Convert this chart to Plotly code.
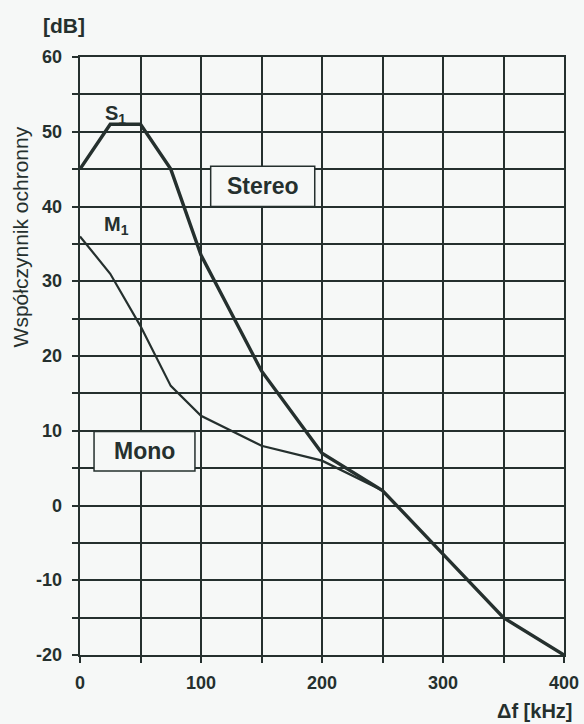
import plotly.graph_objects as go

# Frequency offset Δf [kHz] and protection ratio [dB]
stereo_df = [0, 25, 50, 75, 100, 150, 200, 250, 300, 350, 400]
stereo_db = [45, 51, 51, 45, 33.5, 18, 7, 2, -6.5, -15, -20]

mono_df = [0, 25, 50, 75, 100, 150, 200, 250]
mono_db = [36, 31, 24, 16, 12, 8, 6, 2]

# Grid every 50 kHz / 5 dB, labels every 100 kHz / 10 dB
x_grid = [0, 50, 100, 150, 200, 250, 300, 350, 400]
x_label_vals = [0, 100, 200, 300, 400]
x_label_text = ["0", "100", "200", "300", "400"]
y_grid = [60, 55, 50, 45, 40, 35, 30, 25, 20, 15, 10, 5, 0, -5, -10, -15, -20]
y_label_vals = [60, 50, 40, 30, 20, 10, 0, -10, -20]
y_label_text = ["60", "50", "40", "30", "20", "10", "0", "-10", "-20"]

INK = "#25302e"
PAPER = "#f6f8f7"
FONT = "Liberation Sans"
TICK_FONT = dict(family=FONT, size=18, color=INK, weight="bold")

fig = go.Figure()

fig.add_trace(go.Scatter(x=mono_df, y=mono_db, mode="lines",
                         line=dict(color=INK, width=2.2), hoverinfo="skip"))
fig.add_trace(go.Scatter(x=stereo_df, y=stereo_db, mode="lines",
                         line=dict(color=INK, width=3.4), hoverinfo="skip"))

axis_common = dict(
    showgrid=True, gridcolor=INK, gridwidth=2,
    showline=True, linecolor=INK, linewidth=2, mirror=True,
    ticks="outside", ticklen=6, tickwidth=2, tickcolor=INK,
    zeroline=False, showticklabels=False,
)

fig.update_xaxes(range=[0, 400], tickmode="array", tickvals=x_grid, **axis_common)
fig.update_yaxes(range=[-20, 60], tickmode="array", tickvals=y_grid, **axis_common)

# Frequency labels under the axis
for v, t in zip(x_label_vals, x_label_text):
    fig.add_annotation(x=v, y=0, xref="x", yref="paper", yshift=-28,
                       text=t, showarrow=False, xanchor="center", yanchor="middle",
                       font=TICK_FONT)

# Level labels left of the axis
for v, t in zip(y_label_vals, y_label_text):
    fig.add_annotation(x=0, y=v, xref="paper", yref="y", xshift=-16,
                       text=t, showarrow=False, xanchor="right", yanchor="middle",
                       font=TICK_FONT)

# Labelled boxes for the two reception modes
boxes = [
    dict(x0=108, x1=194, y0=40.0, y1=45.4, text="Stereo"),
    dict(x0=11.6, x1=95, y0=4.6, y1=9.9, text="Mono"),
]
for b in boxes:
    fig.add_shape(type="rect", xref="x", yref="y",
                  x0=b["x0"], x1=b["x1"], y0=b["y0"], y1=b["y1"],
                  fillcolor=PAPER, line=dict(color=INK, width=1.5), layer="above")
    fig.add_annotation(x=(b["x0"] + b["x1"]) / 2, y=(b["y0"] + b["y1"]) / 2,
                       text=b["text"], showarrow=False,
                       font=dict(family=FONT, size=23, color=INK, weight="bold"))

# Curve labels
fig.add_annotation(x=29, y=52.3, text="S<sub>1</sub>", showarrow=False,
                   font=dict(family=FONT, size=20, color=INK, weight="bold"))
fig.add_annotation(x=30.5, y=37.4, text="M<sub>1</sub>", showarrow=False,
                   font=dict(family=FONT, size=20, color=INK, weight="bold"))

# Axis captions
fig.add_annotation(xref="paper", yref="paper", x=-0.034, y=1.0, yshift=32,
                   text="[dB]", showarrow=False, xanchor="center", yanchor="middle",
                   font=dict(family=FONT, size=21, color=INK, weight="bold"))
fig.add_annotation(xref="paper", yref="paper", x=1.02, y=0, yshift=-56,
                   text="Δf [kHz]", showarrow=False, xanchor="right", yanchor="middle",
                   font=dict(family=FONT, size=20, color=INK, weight="bold"))
fig.add_annotation(xref="paper", yref="paper", x=-0.124, y=0.7,
                   text="Współczynnik ochronny", showarrow=False, textangle=-90,
                   xanchor="center", yanchor="middle",
                   font=dict(family=FONT, size=21, color=INK))

fig.update_layout(
    width=584, height=724,
    margin=dict(l=80, r=20, t=57, b=69),
    paper_bgcolor=PAPER, plot_bgcolor=PAPER,
    showlegend=False,
)

fig.write_html("out.html")
